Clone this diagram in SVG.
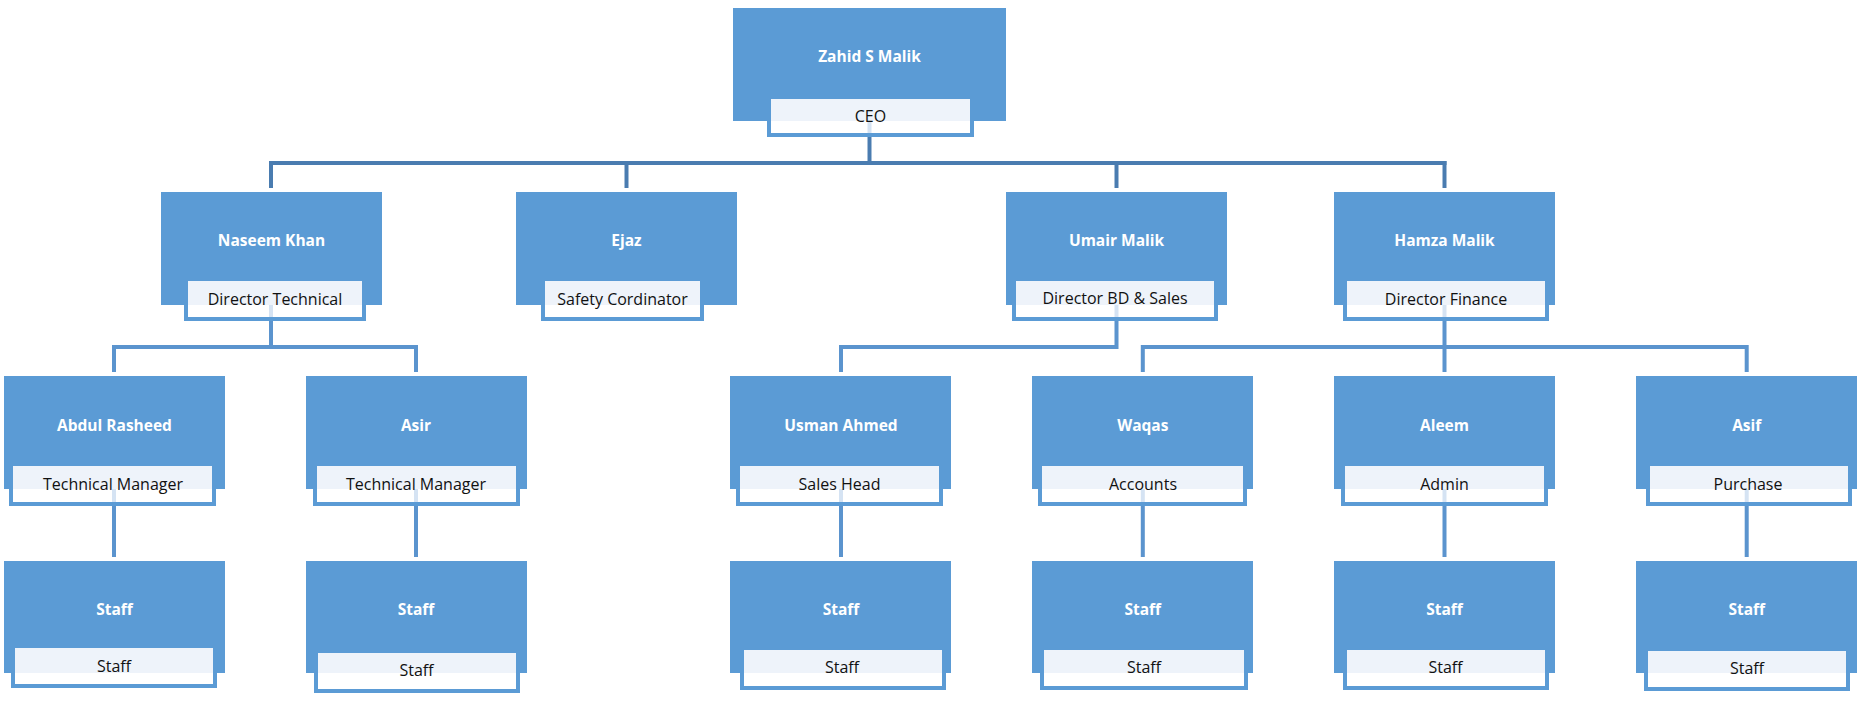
<svg xmlns="http://www.w3.org/2000/svg" width="1862" height="702" viewBox="0 0 1862 702">
<style>
.nb{fill:#5B9BD5}
.lb{fill:#FFFFFF;stroke:#5B9BD5;stroke-width:4}
.lf{fill:#EEF3FA}
.nm{font-family:"Open Sans","Liberation Sans",sans-serif;font-weight:bold;font-size:15.5px;fill:#FFFFFF;text-anchor:middle;dominant-baseline:central}
.tt{font-family:"Open Sans","Liberation Sans",sans-serif;font-size:16px;fill:#111111;text-anchor:middle;dominant-baseline:central}
.c1{stroke:#4A7CB0;stroke-width:4;fill:none}
.c2{stroke:#5B94CE;stroke-width:4;fill:none}
.fa{stroke:#D5E3F3;stroke-width:4}
</style>
<rect width="1862" height="702" fill="#FFFFFF"/>
<g id="connectors">
<line class="c1" x1="269" y1="163" x2="1446.5" y2="163"/>
<line class="c1" x1="869.5" y1="137" x2="869.5" y2="163"/>
<line class="c1" x1="271" y1="163" x2="271" y2="188"/>
<line class="c1" x1="626.5" y1="163" x2="626.5" y2="188"/>
<line class="c1" x1="1116.5" y1="163" x2="1116.5" y2="188"/>
<line class="c1" x1="1444.5" y1="161" x2="1444.5" y2="188"/>
<path class="c2" d="M271 320 V347 M112 347 H418 M114 347 V372 M416 347 V372"/>
<path class="c2" d="M1116.5 320 V347 H841 V372"/>
<path class="c2" d="M1444.5 320 V372 M1140.8 347 H1748.7 M1142.8 347 V372 M1746.7 347 V372"/>
<path class="c2" d="M114 505 V557 M416 505 V557 M841 505 V557 M1142.8 505 V557 M1444.5 505 V557 M1746.7 505 V557"/>
</g>
<g id="n-ceo">
<rect class="nb" x="733" y="8" width="273" height="113"/>
<rect class="lb" x="769" y="97" width="203" height="38"/>
<rect class="lf" x="771" y="99" width="199" height="22"/>
<line class="fa" x1="869.5" y1="121" x2="869.5" y2="133"/>
<text class="nm" x="869.5" y="56">Zahid S Malik</text>
<text class="tt" x="870.5" y="116">CEO</text>
</g>
<g id="n-naseem">
<rect class="nb" x="161" y="192" width="221" height="113"/>
<rect class="lb" x="186" y="279" width="178" height="40"/>
<rect class="lf" x="188" y="281" width="174" height="24"/>
<line class="fa" x1="271" y1="305" x2="271" y2="317"/>
<text class="nm" x="271.5" y="240">Naseem Khan</text>
<text class="tt" x="275" y="298.5">Director Technical</text>
</g>
<g id="n-ejaz">
<rect class="nb" x="516" y="192" width="221" height="113"/>
<rect class="lb" x="543" y="279" width="159" height="40"/>
<rect class="lf" x="545" y="281" width="155" height="24"/>
<text class="nm" x="626.5" y="240">Ejaz</text>
<text class="tt" x="622.5" y="298.5">Safety Cordinator</text>
</g>
<g id="n-umair">
<rect class="nb" x="1006" y="192" width="221" height="113"/>
<rect class="lb" x="1014" y="279" width="202" height="40"/>
<rect class="lf" x="1016" y="281" width="198" height="24"/>
<line class="fa" x1="1116.5" y1="305" x2="1116.5" y2="317"/>
<text class="nm" x="1116.5" y="240">Umair Malik</text>
<text class="tt" x="1115" y="298">Director BD &amp; Sales</text>
</g>
<g id="n-hamza">
<rect class="nb" x="1334" y="192" width="221" height="113"/>
<rect class="lb" x="1345" y="279" width="202" height="40"/>
<rect class="lf" x="1347" y="281" width="198" height="24"/>
<line class="fa" x1="1444.5" y1="305" x2="1444.5" y2="317"/>
<text class="nm" x="1444.5" y="240">Hamza Malik</text>
<text class="tt" x="1446" y="298.5">Director Finance</text>
</g>
<g id="n-abdul">
<rect class="nb" x="4" y="376" width="221" height="113"/>
<rect class="lb" x="11" y="464" width="203" height="40"/>
<rect class="lf" x="13" y="466" width="199" height="23"/>
<line class="fa" x1="114" y1="489" x2="114" y2="502"/>
<text class="nm" x="114.5" y="424.5">Abdul Rasheed</text>
<text class="tt" x="113" y="483.5">Technical Manager</text>
</g>
<g id="n-asir">
<rect class="nb" x="306" y="376" width="221" height="113"/>
<rect class="lb" x="315" y="464" width="203" height="40"/>
<rect class="lf" x="317" y="466" width="199" height="23"/>
<line class="fa" x1="416" y1="489" x2="416" y2="502"/>
<text class="nm" x="416" y="424.5">Asir</text>
<text class="tt" x="416" y="483.5">Technical Manager</text>
</g>
<g id="n-usman">
<rect class="nb" x="730" y="376" width="221" height="113"/>
<rect class="lb" x="738" y="464" width="203" height="40"/>
<rect class="lf" x="740" y="466" width="199" height="23"/>
<line class="fa" x1="841" y1="489" x2="841" y2="502"/>
<text class="nm" x="841" y="424.5">Usman Ahmed</text>
<text class="tt" x="839.5" y="483.5">Sales Head</text>
</g>
<g id="n-waqas">
<rect class="nb" x="1032" y="376" width="221" height="113"/>
<rect class="lb" x="1040" y="464" width="205" height="40"/>
<rect class="lf" x="1042" y="466" width="201" height="23"/>
<line class="fa" x1="1142.8" y1="489" x2="1142.8" y2="502"/>
<text class="nm" x="1142.8" y="424.5">Waqas</text>
<text class="tt" x="1143" y="483.5">Accounts</text>
</g>
<g id="n-aleem">
<rect class="nb" x="1334" y="376" width="221" height="113"/>
<rect class="lb" x="1343" y="464" width="203" height="40"/>
<rect class="lf" x="1345" y="466" width="199" height="23"/>
<line class="fa" x1="1444.5" y1="489" x2="1444.5" y2="502"/>
<text class="nm" x="1444.5" y="424.5">Aleem</text>
<text class="tt" x="1444.5" y="483.5">Admin</text>
</g>
<g id="n-asif">
<rect class="nb" x="1636" y="376" width="221" height="113"/>
<rect class="lb" x="1648" y="464" width="202" height="40"/>
<rect class="lf" x="1650" y="466" width="198" height="23"/>
<line class="fa" x1="1746.7" y1="489" x2="1746.7" y2="502"/>
<text class="nm" x="1746.7" y="424.5">Asif</text>
<text class="tt" x="1748" y="483.5">Purchase</text>
</g>
<g id="n-staff1">
<rect class="nb" x="4" y="561" width="221" height="112"/>
<rect class="lb" x="13" y="646" width="202" height="40"/>
<rect class="lf" x="15" y="648" width="198" height="25"/>
<text class="nm" x="114.5" y="608.5">Staff</text>
<text class="tt" x="114" y="665.5">Staff</text>
</g>
<g id="n-staff2">
<rect class="nb" x="306" y="561" width="221" height="112"/>
<rect class="lb" x="316" y="651" width="202" height="40"/>
<rect class="lf" x="318" y="653" width="198" height="20"/>
<text class="nm" x="416" y="608.5">Staff</text>
<text class="tt" x="416.5" y="670">Staff</text>
</g>
<g id="n-staff3">
<rect class="nb" x="730" y="561" width="221" height="112"/>
<rect class="lb" x="742" y="648" width="202" height="40"/>
<rect class="lf" x="744" y="650" width="198" height="23"/>
<text class="nm" x="841" y="608.5">Staff</text>
<text class="tt" x="842" y="667">Staff</text>
</g>
<g id="n-staff4">
<rect class="nb" x="1032" y="561" width="221" height="112"/>
<rect class="lb" x="1042" y="648" width="204" height="40"/>
<rect class="lf" x="1044" y="650" width="200" height="23"/>
<text class="nm" x="1142.8" y="608.5">Staff</text>
<text class="tt" x="1144" y="667">Staff</text>
</g>
<g id="n-staff5">
<rect class="nb" x="1334" y="561" width="221" height="112"/>
<rect class="lb" x="1345" y="648" width="202" height="40"/>
<rect class="lf" x="1347" y="650" width="198" height="23"/>
<text class="nm" x="1444.5" y="608.5">Staff</text>
<text class="tt" x="1445.5" y="667">Staff</text>
</g>
<g id="n-staff6">
<rect class="nb" x="1636" y="561" width="221" height="112"/>
<rect class="lb" x="1646" y="649" width="202" height="40"/>
<rect class="lf" x="1648" y="651" width="198" height="22"/>
<text class="nm" x="1746.7" y="608.5">Staff</text>
<text class="tt" x="1747" y="667.5">Staff</text>
</g>
</svg>
